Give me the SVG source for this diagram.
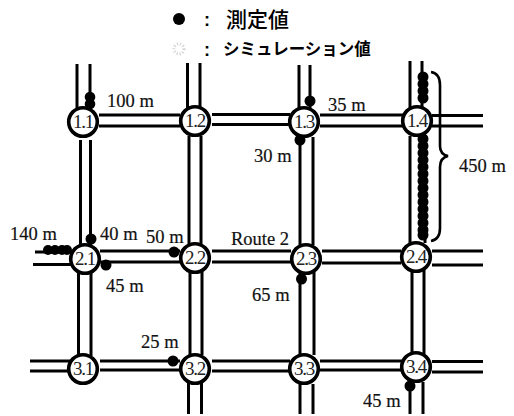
<svg xmlns="http://www.w3.org/2000/svg" width="514" height="416" viewBox="0 0 514 416">
<style>
.road{stroke:#000;stroke-width:3;fill:none}
.node{fill:#fff;stroke:#000;stroke-width:3.6}
.nl{font:19px "Liberation Serif",serif;fill:#222;text-anchor:middle;letter-spacing:-1.2px}
.lb{font:18.500px "Liberation Serif",serif;fill:#111;stroke:#111;stroke-width:.2}
.jp{font-family:"Noto Sans CJK JP","Liberation Sans",sans-serif;fill:#000;font-weight:500}
.cl{font:bold 18px "Liberation Sans",sans-serif;fill:#000}
.d{fill:#000}
</style>
<rect width="514" height="416" fill="#fff"/>
<g id="connectors" class="road">
<path d="M77 64V108M90 64V108M80.500 140V246M90.500 140V246M78.500 272V356M91 272V356"/>
<path d="M187.500 63V108M200 63V108M189 136V244M201 136V244M190 272V355M202 272V355M188.500 383V414M201.500 383V414"/>
<path d="M299 65V108M310 65V108M300 137V245M313 137V245M300 272V355M314 272V355M300 384V414M313 384V414"/>
<path d="M410 61V108M422 61V108M410 136V243M425 136V243M412 270V355M424 270V355M410 382V414M423 382V414"/>
<path d="M99 115H180M99 126H180M212 114.500H290M212 124.500H290M320 115H403M320 126H403M432 115.500H483M432 126H483"/>
<path d="M35 252H72M33 264.500H72M100 251H180M100 262H180M212 251H291M212 262H291M322 251H401M322 263H401M432 251H483M432 265H483"/>
<path d="M30 361H70M30 371H70M100 361H180M100 370H180M212 361H290M212 371H290M320 361H402M320 370H402M432 361.500H483M432 372H483"/>
</g>
<g id="brace"><path d="M431 72C437 73 440 77 440 85V146C440 152 443 155 448 156C443 157 440 161 440 167V228C440 236 437 240 431 241" fill="none" stroke="#000" stroke-width="2.600"/></g>
<g id="nodes">
<g id="n1.1"><circle class="node" cx="83" cy="122" r="14.300"/><text class="nl" x="83" y="128">1.1</text></g>
<g id="n1.2"><circle class="node" cx="195" cy="121" r="14.300"/><text class="nl" x="195" y="127">1.2</text></g>
<g id="n1.3"><circle class="node" cx="304" cy="122" r="14.300"/><text class="nl" x="304" y="128">1.3</text></g>
<g id="n1.4"><circle class="node" cx="417" cy="121" r="14.300"/><text class="nl" x="417" y="127">1.4</text></g>
<g id="n2.1"><circle class="node" cx="85" cy="259" r="14.300"/><text class="nl" x="85" y="265">2.1</text></g>
<g id="n2.2"><circle class="node" cx="195" cy="258" r="14.300"/><text class="nl" x="195" y="264">2.2</text></g>
<g id="n2.3"><circle class="node" cx="306" cy="259" r="14.300"/><text class="nl" x="306" y="265">2.3</text></g>
<g id="n2.4"><circle class="node" cx="416" cy="257" r="14.300"/><text class="nl" x="416" y="263">2.4</text></g>
<g id="n3.1"><circle class="node" cx="83" cy="369" r="14.300"/><text class="nl" x="83" y="375">3.1</text></g>
<g id="n3.2"><circle class="node" cx="195" cy="369" r="14.300"/><text class="nl" x="195" y="375">3.2</text></g>
<g id="n3.3"><circle class="node" cx="304" cy="369" r="14.300"/><text class="nl" x="304" y="375">3.3</text></g>
<g id="n3.4"><circle class="node" cx="416" cy="367" r="14.300"/><text class="nl" x="416" y="373">3.4</text></g>
</g>
<g id="points" class="d">
<circle cx="179" cy="19" r="6"/>
<circle cx="90" cy="97" r="5.300"/><circle cx="90" cy="104" r="5.300"/>
<circle cx="310" cy="101" r="5.500"/><circle cx="300" cy="140" r="5.500"/>
<circle cx="423" cy="77" r="5.500"/><circle cx="423" cy="84" r="5.500"/><circle cx="423" cy="91" r="5.500"/><circle cx="423" cy="98" r="5.500"/>
<circle cx="423" cy="139" r="5.500"/><circle cx="423" cy="146" r="5.500"/><circle cx="423" cy="153" r="5.500"/><circle cx="423" cy="160" r="5.500"/><circle cx="423" cy="167" r="5.500"/><circle cx="423" cy="174" r="5.500"/><circle cx="423" cy="181" r="5.500"/><circle cx="423" cy="188" r="5.500"/><circle cx="423" cy="195" r="5.500"/><circle cx="423" cy="202" r="5.500"/><circle cx="423" cy="209" r="5.500"/><circle cx="423" cy="216" r="5.500"/><circle cx="423" cy="223" r="5.500"/><circle cx="423" cy="230" r="5.500"/><circle cx="423" cy="235" r="5.500"/>
<circle cx="91" cy="239" r="5.500"/><circle cx="106" cy="265" r="5.500"/>
<circle cx="48" cy="250" r="5"/><circle cx="55" cy="250" r="5"/><circle cx="62" cy="250" r="5"/><circle cx="67" cy="250" r="5"/>
<circle cx="174" cy="252" r="5.500"/><circle cx="173" cy="361" r="5.500"/><circle cx="301.500" cy="279" r="5.500"/><circle cx="410" cy="386" r="5.500"/>
</g>
<circle id="sim-symbol" cx="179" cy="49" r="5" fill="none" stroke="#cfcfcf" stroke-width="3" stroke-dasharray="1 2"/>
<g id="labels">
<text class="jp" x="226" y="27" font-size="21">測定値</text>
<text class="cl" x="204" y="26">:</text>
<text class="cl" x="204" y="56">:</text>
<text class="jp" x="223" y="55" font-size="16.500" font-weight="700" style="font-weight:700">シミュレーション値</text>
<text class="lb" x="107" y="107">100 m</text>
<text class="lb" x="328" y="111">35 m</text>
<text class="lb" x="254" y="162">30 m</text>
<text class="lb" x="459" y="172">450 m</text>
<text class="lb" x="10" y="240">140 m</text>
<text class="lb" x="100" y="240">40 m</text>
<text class="lb" x="146" y="243">50 m</text>
<text class="lb" x="106" y="292">45 m</text>
<text class="lb" x="231" y="245">Route 2</text>
<text class="lb" x="252" y="301">65 m</text>
<text class="lb" x="141" y="348">25 m</text>
<text class="lb" x="363" y="407">45 m</text>
</g>
</svg>
